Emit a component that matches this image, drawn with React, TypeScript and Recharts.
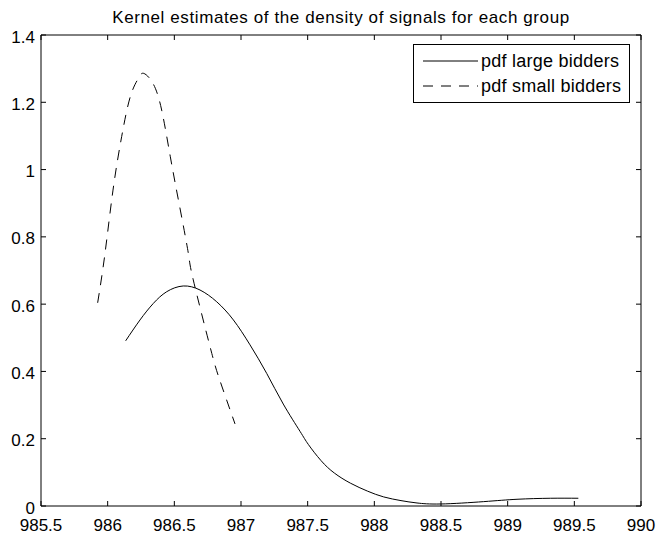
import React from "react";
import { LineChart, Line, XAxis, YAxis } from "recharts";

const largeX = [986.135, 986.2425, 986.342, 986.443, 986.567, 986.6925, 986.818, 986.943, 987.0675, 987.193, 987.317, 987.4425, 987.505, 987.6, 987.7, 987.82, 987.95, 988.07, 988.2, 988.32, 988.5, 988.82, 989.07, 989.32, 989.53];
const largeY = [0.491, 0.553, 0.602, 0.637, 0.654, 0.642, 0.607, 0.553, 0.479, 0.394, 0.303, 0.222, 0.183, 0.135, 0.098, 0.068, 0.044, 0.027, 0.016, 0.009, 0.006, 0.013, 0.02, 0.023, 0.023];

const smallX = [985.925, 985.98, 986.04, 986.105, 986.17, 986.23, 986.27, 986.34, 986.405, 986.47, 986.54, 986.605, 986.642, 986.7675, 986.84, 986.955];
const smallY = [0.604, 0.751, 0.939, 1.098, 1.217, 1.271, 1.286, 1.256, 1.177, 1.038, 0.89, 0.751, 0.672, 0.474, 0.375, 0.244];

const xTicks = [985.5, 986, 986.5, 987, 987.5, 988, 988.5, 989, 989.5, 990];
const yTicks = [0, 0.2, 0.4, 0.6, 0.8, 1, 1.2, 1.4];

const seriesNames = ["pdf large bidders", "pdf small bidders"];
const titleText = "Kernel estimates of the density of signals for each group";

const largeData = largeX.map((x, i) => ({ x, y: largeY[i] }));
const smallData = smallX.map((x, i) => ({ x, y: smallY[i] }));

const FONT = "'Liberation Sans', Arial, Helvetica, sans-serif";
const W = 657;
const H = 536;

const BottomTick = (props: any) => {
  const { x, y, payload } = props;
  return (
    <g>
      <line x1={x} x2={x} y1={y - 13} y2={y - 18} stroke="#000" strokeWidth={1} />
      <text x={x} y={y} dy="0.71em" textAnchor="middle" fontFamily={FONT} fontSize={17} fill="#000">
        {String(payload.value)}
      </text>
    </g>
  );
};

const LeftTick = (props: any) => {
  const { x, y, payload } = props;
  return (
    <g>
      <line x1={x + 6} x2={x + 11} y1={y} y2={y} stroke="#000" strokeWidth={1} />
      <text x={x} y={y + 1.5} dy="0.355em" textAnchor="end" fontFamily={FONT} fontSize={17} fill="#000">
        {String(payload.value)}
      </text>
    </g>
  );
};

const TopTick = (props: any) => {
  const { x, y } = props;
  return <line x1={x} x2={x} y1={y} y2={y + 5} stroke="#000" strokeWidth={1} />;
};

const RightTick = (props: any) => {
  const { x, y } = props;
  return <line x1={x - 5} x2={x} y1={y} y2={y} stroke="#000" strokeWidth={1} />;
};

export default function App() {
  return (
    <div style={{ position: "fixed", left: 0, top: 0, width: W, height: H, background: "#fff" }}>
      <LineChart
        width={W}
        height={H}
        margin={{ top: 34, right: 15, bottom: 0, left: 0 }}
      >
        <XAxis
          xAxisId="bottom"
          type="number"
          dataKey="x"
          domain={[985.5, 990]}
          ticks={xTicks}
          allowDataOverflow
          height={30}
          tickSize={0}
          tickMargin={13}
          tick={<BottomTick />}
          axisLine={{ stroke: "#000", strokeWidth: 1 }}
          interval={0}
        />
        <XAxis
          xAxisId="top"
          orientation="top"
          type="number"
          dataKey="x"
          domain={[985.5, 990]}
          ticks={xTicks}
          allowDataOverflow
          height={1}
          tickSize={0}
          tickMargin={0}
          tick={<TopTick />}
          axisLine={{ stroke: "#000", strokeWidth: 1 }}
          interval={0}
        />
        <YAxis
          yAxisId="left"
          type="number"
          domain={[0, 1.4]}
          ticks={yTicks}
          allowDataOverflow
          width={41}
          tickSize={0}
          tickMargin={6}
          tick={<LeftTick />}
          axisLine={{ stroke: "#000", strokeWidth: 1 }}
          interval={0}
        />
        <YAxis
          yAxisId="right"
          orientation="right"
          type="number"
          domain={[0, 1.4]}
          ticks={yTicks}
          allowDataOverflow
          width={1}
          tickSize={0}
          tickMargin={0}
          tick={<RightTick />}
          axisLine={{ stroke: "#000", strokeWidth: 1 }}
          interval={0}
        />
        <Line
          xAxisId="bottom"
          yAxisId="left"
          data={largeData}
          dataKey="y"
          type="natural"
          stroke="#000"
          strokeWidth={1}
          dot={false}
          isAnimationActive={false}
          name={seriesNames[0]}
        />
        <Line
          xAxisId="bottom"
          yAxisId="left"
          data={smallData}
          dataKey="y"
          type="natural"
          stroke="#000"
          strokeWidth={1}
          strokeDasharray="10 8"
          dot={false}
          isAnimationActive={false}
          name={seriesNames[1]}
        />
        <Line
          xAxisId="top"
          yAxisId="right"
          data={largeData}
          dataKey="y"
          type="monotone"
          stroke="none"
          dot={false}
          isAnimationActive={false}
          legendType="none"
        />
      </LineChart>
      <svg
        width={W}
        height={32}
        style={{ position: "absolute", left: 0, top: 0, pointerEvents: "none" }}
      >
        <text x={341} y={23} textAnchor="middle" fontFamily={FONT} fontSize={17} letterSpacing={0.6} fill="#000">
          {titleText}
        </text>
      </svg>
      <svg
        width={218}
        height={60}
        style={{ position: "absolute", left: 413, top: 44, pointerEvents: "none" }}
      >
        <rect x={0.5} y={0.5} width={216} height={58} fill="#fff" stroke="#000" strokeWidth={1} />
        <line x1={10} x2={65} y1={17} y2={17} stroke="#000" strokeWidth={1} />
        <text x={68} y={17} dy="0.355em" fontFamily={FONT} fontSize={18} letterSpacing={0.25} fill="#000">
          {seriesNames[0]}
        </text>
        <line x1={10} x2={65} y1={42} y2={42} stroke="#000" strokeWidth={1} strokeDasharray="10 8" />
        <text x={68} y={42} dy="0.355em" fontFamily={FONT} fontSize={18} letterSpacing={0.25} fill="#000">
          {seriesNames[1]}
        </text>
      </svg>
    </div>
  );
}
